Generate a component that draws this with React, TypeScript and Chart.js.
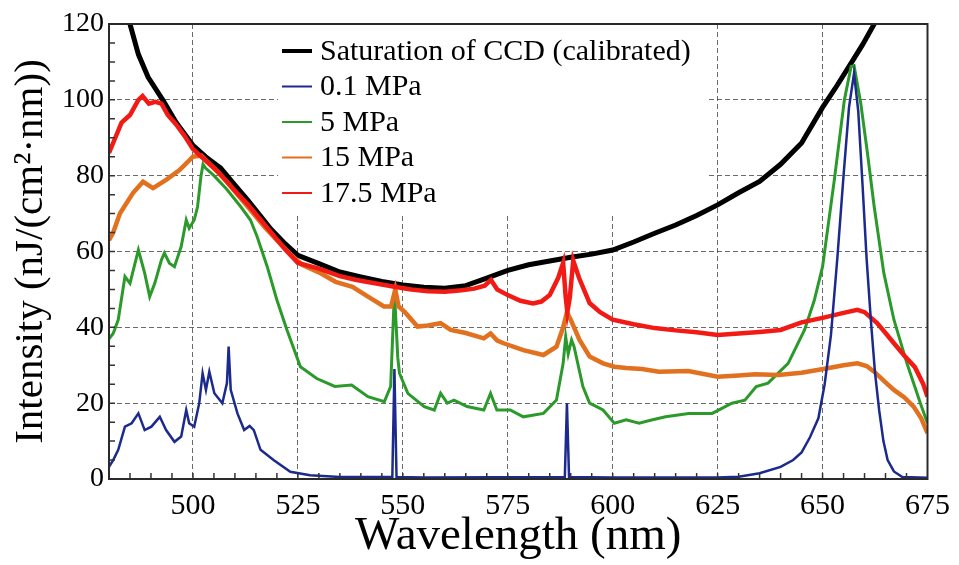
import React, { useEffect, useRef } from "react";
import { Chart, registerables } from "chart.js";

Chart.register(...registerables);

const FONT = "'Liberation Serif', 'Times New Roman', serif";

// ---- axis ticks ----
const xTickValues = [500, 525, 550, 575, 600, 625, 650, 675];
const yTickValues = [0, 20, 40, 60, 80, 100, 120];

// ---- legend labels ----
const seriesLabels = ["Saturation of CCD (calibrated)", "0.1 MPa", "5 MPa", "15 MPa", "17.5 MPa"];

// ---- Saturation of CCD (calibrated) ----
const satWl = [482, 485, 487, 489.3, 492.8, 496, 500, 503, 506.6, 510, 513, 516, 518.5, 522, 525, 530, 535, 540, 545, 550, 555, 560, 565, 570, 575, 580, 585, 590, 595, 600, 605, 610, 615, 620, 625, 630, 635, 640, 645, 650, 653, 656.8, 659.5, 662.3, 664.5];
const satVal = [130, 120, 112, 106, 100, 94, 88, 85, 82, 77.5, 73.6, 69.5, 66, 62, 59, 56.8, 54.6, 53.3, 52.1, 51.2, 50.6, 50.3, 51, 53, 55, 56.5, 57.5, 58.5, 59.3, 60.4, 62.5, 64.8, 67, 69.5, 72.3, 75.5, 78.5, 83, 88.6, 98, 103, 109.7, 114.5, 120, 124];

// ---- 0.1 MPa ----
const blueWl = [480, 481, 482.2, 483.8, 485.4, 487, 488.5, 490.1, 492.1, 493.6, 495.6, 497.2, 498.4, 499.1, 500.3, 501.5, 502.3, 503.1, 503.9, 505.1, 507, 508.1, 508.5, 509, 510.6, 512.2, 513.5, 514.5, 516.1, 519.2, 523.2, 527.9, 535, 547.5, 548, 548.5, 555, 588.6, 589.1, 589.6, 600, 625, 630, 635, 640, 643, 645, 647, 649, 650.5, 652, 653.5, 655, 656.3, 657.5, 658.5, 659.5, 660.5, 661.5, 662.5, 663.5, 664.5, 665.5, 667, 669, 675];
const blueVal = [3.2, 5, 7.7, 13.8, 14.7, 17.3, 12.9, 13.8, 16.4, 12.9, 9.8, 11.2, 18.2, 14.7, 13.8, 20, 27.9, 23.5, 28.3, 22.6, 20, 25.3, 34.9, 23.5, 17.3, 12.9, 14, 12.9, 7.7, 5, 1.9, 1, 0.5, 0.5, 29, 0.5, 0.4, 0.5, 20, 0.5, 0.4, 0.4, 0.6, 1.5, 3.2, 5, 7, 11, 16, 25, 38, 58, 80, 98, 107, 97, 78, 58, 42, 28, 18, 10, 5, 2, 0.5, 0.3];

// ---- 5 MPa ----
const greenWl = [480, 481, 482.2, 483.8, 485, 486, 487, 488.5, 489.7, 490.9, 492.5, 493.2, 494.4, 495.6, 497.2, 498.4, 499.1, 500.3, 501.1, 501.9, 502.4, 503, 505, 508, 511.4, 513.7, 515.3, 517.7, 520, 522.4, 525.6, 529.5, 533.8, 537.8, 541.7, 545.6, 547.1, 548, 548.8, 549.2, 551.2, 555.1, 557.5, 559, 560.6, 562.2, 565.3, 569.3, 570.9, 572.4, 575.6, 578.7, 583.5, 586.6, 588.2, 588.8, 589.4, 590.2, 590.8, 592.9, 594.5, 597.7, 600.4, 603.2, 606.3, 609, 612.6, 618.1, 623.7, 628.4, 631.5, 634.2, 637, 641.8, 645.7, 648, 650, 652.8, 655.2, 656.8, 657.5, 659.1, 660.7, 662.3, 664.6, 667, 670.1, 673.3, 675];
const greenVal = [37, 38.4, 42, 53.4, 51.6, 56, 60.4, 54.3, 48.1, 51.6, 57.8, 59.6, 56.9, 56, 61.3, 68.3, 66.1, 68.3, 71.8, 79.8, 83, 82, 80, 76.5, 71.8, 68.3, 63.9, 56, 47.2, 39.3, 29.6, 26.5, 24.4, 24.8, 21.7, 20.4, 24.4, 49.4, 32, 27.9, 22.6, 19.1, 18.2, 22.6, 20, 20.8, 19.1, 18.2, 22.6, 18.2, 18.2, 16.4, 17.3, 20.8, 30.5, 37.5, 33, 36.7, 34.9, 24.4, 20, 18.2, 14.7, 15.6, 14.7, 15.5, 16.4, 17.3, 17.3, 20, 20.8, 24.4, 25.3, 30.5, 39.3, 47, 56, 78.9, 100, 108.8, 109, 99.1, 85.9, 71.8, 54.3, 42, 30.5, 20, 14.7];

// ---- 15 MPa ----
const orangeWl = [480, 481, 482.6, 485.7, 488.1, 490.5, 493.6, 496.8, 500, 502, 505, 508, 511, 514, 517, 520, 523, 526, 530, 534, 538, 541.7, 545.5, 547.2, 548.2, 549, 550.5, 553.5, 556, 559, 561.4, 565, 569.3, 570.9, 572.5, 574, 578.7, 583.5, 586.6, 588.2, 589.1, 590, 592.1, 594.5, 597.7, 600.4, 603.2, 607, 611, 618, 625, 630, 634, 639.4, 645, 651.2, 655, 658.3, 660.5, 662.3, 665, 667, 669.5, 671.7, 673.5, 675];
const orangeVal = [63, 65, 70, 75.4, 78.4, 76.7, 78.9, 81.5, 85, 85.3, 82, 78.5, 74.5, 70.5, 66.5, 63, 59.5, 56.5, 54.5, 52, 50.7, 48.1, 45.5, 45.5, 50, 45.5, 44, 40.2, 40.5, 41.1, 39.3, 38.5, 37.1, 38.4, 36.5, 35.8, 34, 32.7, 34.9, 40, 44, 42, 36.7, 32.3, 30.5, 29.6, 29.3, 29, 28.3, 28.5, 27, 27.3, 27.6, 27.4, 28, 29.2, 30, 30.5, 29.8, 28.3, 25.5, 23.5, 21.5, 19.1, 16, 12.1];

// ---- 17.5 MPa ----
const redWl = [480, 481.5, 483, 485, 487, 488, 489.5, 491, 492.5, 494, 496, 498, 500, 503, 506, 510, 513, 516, 519, 522, 525, 530, 535, 539, 544, 548, 552, 556, 560, 564, 567, 569.5, 571, 572.5, 575, 578, 581, 583, 585, 587, 588.2, 588.8, 589.2, 589.8, 590.6, 592, 594.5, 597, 600, 605, 610, 615, 620, 625, 630, 635, 640, 645, 650, 655, 658.3, 660, 663, 665, 667, 669.5, 672, 674, 675];
const redVal = [86, 90, 94, 96, 100, 101, 99, 99.5, 99, 96, 93.5, 90.5, 87, 84, 81, 76, 72.5, 68.5, 64.5, 60.5, 57, 55.5, 53.5, 52.5, 51.5, 50.7, 50, 49.5, 49.4, 49.8, 50.2, 51, 52.5, 50, 48.5, 47, 46.3, 46.8, 48.5, 53, 57, 48, 44, 48, 57.6, 53, 46.4, 44, 42, 40.8, 39.8, 39.2, 38.7, 38, 38.4, 38.8, 39.3, 41.3, 42.5, 43.8, 44.6, 44, 41.1, 38.5, 35.8, 32.5, 29.5, 25, 21.7];

const COLORS = ["#000000", "#1b2a8c", "#2b9a2b", "#e2711f", "#f21a14"];
const WIDTHS = [5, 2.5, 3, 4.5, 4.5];
const ORDERS = [5, 1, 4, 3, 2];

const toPts = (xs: number[], ys: number[]) => xs.map((x, i) => ({ x, y: ys[i] }));

const legendPlugin = {
  id: "boxLegend",
  beforeDatasetsDraw(chart: any) {
    const { ctx, chartArea } = chart;
    const x0 = chartArea.left + 169;
    const y0 = chartArea.top + 1;
    ctx.save();
    ctx.fillStyle = "#ffffff";
    ctx.fillRect(x0, y0, 429, 190);
    ctx.font = `30px ${FONT}`;
    ctx.textBaseline = "middle";
    ctx.textAlign = "left";
    seriesLabels.forEach((label, i) => {
      const y = chartArea.top + 27 + i * 35.5;
      ctx.strokeStyle = COLORS[i];
      ctx.lineWidth = i === 0 ? 4 : 2;
      ctx.beginPath();
      ctx.moveTo(x0 + 4, y);
      ctx.lineTo(x0 + 34, y);
      ctx.stroke();
      ctx.fillStyle = "#000000";
      ctx.fillText(label, x0 + 42, y + 1);
    });
    ctx.restore();
  },
};

const framePlugin = {
  id: "frameTicks",
  afterDraw(chart: any) {
    const { ctx, chartArea, scales } = chart;
    const { left, right, top, bottom } = chartArea;
    ctx.save();
    ctx.strokeStyle = "#333333";
    ctx.lineWidth = 1.5;
    ctx.beginPath();
    for (let v = 485; v < 675; v += 5) {
      const px = scales.x.getPixelForValue(v);
      ctx.moveTo(px, bottom);
      ctx.lineTo(px, bottom - 6);
    }
    for (let v = 5; v < 120; v += 5) {
      const py = scales.y.getPixelForValue(v);
      ctx.moveTo(left, py);
      ctx.lineTo(left + 6, py);
    }
    ctx.stroke();
    ctx.lineWidth = 2;
    ctx.strokeStyle = "#2a2a2a";
    ctx.strokeRect(left, top, right - left, bottom - top);
    ctx.restore();
  },
};

export default function App() {
  const ref = useRef<HTMLCanvasElement | null>(null);

  useEffect(() => {
    if (!ref.current) return;
    const series = [
      toPts(satWl, satVal),
      toPts(blueWl, blueVal),
      toPts(greenWl, greenVal),
      toPts(orangeWl, orangeVal),
      toPts(redWl, redVal),
    ];
    const chart = new Chart(ref.current, {
      type: "line",
      data: {
        datasets: series.map((d, i) => ({
          label: seriesLabels[i],
          data: d,
          borderColor: COLORS[i],
          backgroundColor: COLORS[i],
          borderWidth: WIDTHS[i],
          pointRadius: 0,
          tension: 0,
          fill: false,
          order: ORDERS[i],
        })),
      },
      options: {
        animation: false,
        responsive: false,
        maintainAspectRatio: false,
        layout: { padding: { left: 0, top: 24, right: 25, bottom: 0 } },
        plugins: { legend: { display: false }, tooltip: { enabled: false } },
        scales: {
          x: {
            type: "linear",
            min: 480,
            max: 675,
            afterBuildTicks: (scale: any) => {
              scale.ticks = xTickValues.map((v) => ({ value: v }));
            },
            afterFit: (scale: any) => {
              scale.height = 86;
            },
            grid: { color: "rgba(80,80,80,0.85)", lineWidth: 1, drawTicks: false },
            border: { display: false, dash: [5, 3] },
            ticks: {
              color: "#000",
              font: { family: FONT, size: 30 },
              padding: 9,
              maxRotation: 0,
              autoSkip: false,
            },
            title: {
              display: true,
              text: "Wavelength (nm)",
              color: "#000",
              font: { family: FONT, size: 47 },
              padding: { top: 0, bottom: 0 },
            },
          },
          y: {
            type: "linear",
            min: 0,
            max: 120,
            afterBuildTicks: (scale: any) => {
              scale.ticks = yTickValues.map((v) => ({ value: v }));
            },
            afterFit: (scale: any) => {
              scale.width = 109;
            },
            grid: { color: "rgba(80,80,80,0.85)", lineWidth: 1, drawTicks: false },
            border: { display: false, dash: [5, 3] },
            ticks: {
              color: "#000",
              font: { family: FONT, size: 28 },
              padding: 5,
              autoSkip: false,
            },
            title: {
              display: true,
              text: "Intensity (nJ/(cm²·nm))",
              color: "#000",
              font: { family: FONT, size: 41 },
              padding: { top: 7, bottom: 0 },
            },
          },
        },
      },
      plugins: [legendPlugin, framePlugin],
    });
    return () => chart.destroy();
  }, []);

  return (
    <div style={{ position: "fixed", left: 0, top: 0, width: 959, height: 565, background: "#ffffff" }}>
      <canvas ref={ref} width={959} height={565} style={{ width: 959, height: 565, display: "block" }} />
    </div>
  );
}
